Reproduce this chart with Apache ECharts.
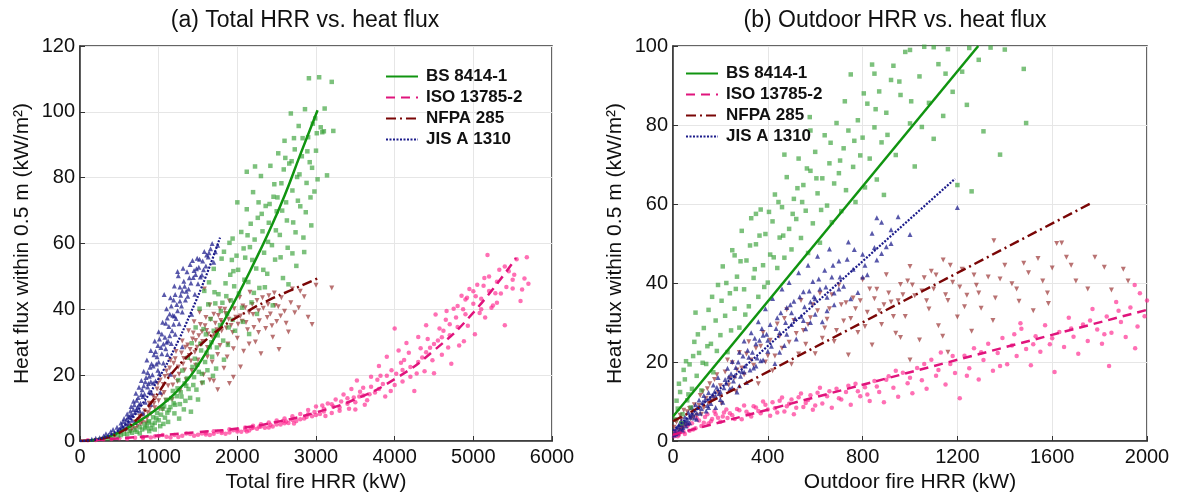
<!DOCTYPE html>
<html><head><meta charset="utf-8">
<script src="https://cdn.jsdelivr.net/npm/echarts@6/dist/echarts.min.js"></script>
<style>html,body{margin:0;padding:0;background:#fff}#c{width:1178px;height:498px}</style>
</head><body><div id="c"></div>
<script>
// ---------- labels ----------
const legendNames = ['BS 8414-1', 'ISO 13785-2', 'NFPA 285', 'JIS A 1310'];
const panelTitles = ['(a) Total HRR vs. heat flux', '(b) Outdoor HRR vs. heat flux'];
const xAxisNames = ['Total fire HRR (kW)', 'Outdoor fire HRR (kW)'];
const yAxisName = 'Heat flux within 0.5 m (kW/m\u00B2)';
const xTicksTotal = [0, 1000, 2000, 3000, 4000, 5000, 6000];
const yTicksTotal = [0, 20, 40, 60, 80, 100, 120];
const xTicksOutdoor = [0, 400, 800, 1200, 1600, 2000];
const yTicksOutdoor = [0, 20, 40, 60, 80, 100];

// ---------- panel (a): fitted curves ----------
const fitBS_total = [[0,0],[200,0.4],[400,1.7],[600,3.9],[800,6.8],[1000,10.2],[1200,14.3],[1400,19.6],[1600,26.8],[1800,35.2],[2000,44],[2200,53.5],[2400,63.5],[2600,74.5],[2800,87],[3020,100.5]];
const fitISO_total = [[0,0],[500,0.8],[1000,1.7],[1500,2.7],[2000,3.8],[2500,5.8],[3000,8.7],[3500,12.7],[4000,18.8],[4500,27.5],[5000,39],[5542,55.6]];
const fitNFPA_total = [[0,0],[300,0.8],[500,2.5],[700,6],[900,11.5],[1000,14.8],[1200,21.5],[1500,28.5],[1800,34.5],[2100,39],[2400,42.8],[2700,46],[3030,49.5]];
const fitJIS_total = [[0,0],[200,0.5],[400,2],[600,5.5],[800,11.5],[1000,19],[1200,28],[1400,38.5],[1600,50],[1780,61.8]];

// ---------- panel (a): measured points ----------
const ptsBS_total = [[350,0.8],[420,1.2],[480,1.5],[520,1.8],[560,2.2],[600,2.0],[630,3.1],[660,2.5],[700,3.4],[720,2.8],[760,4.2],[790,3.5],[820,5.1],[850,4.4],[880,6.0],[900,3.8],[930,7.2],[950,5.5],[980,8.5],[1000,6.3],
[1020,4.5],[1050,9.8],[1080,7.1],[1100,12.5],[1120,5.8],[1150,10.3],[1180,15.2],[1200,8.4],[1230,13.6],[1250,18.5],[1270,11.2],[1300,21.4],[1320,9.6],[1350,16.8],[1370,25.3],[1400,13.1],[1420,29.7],[1450,19.4],[1470,34.5],[1490,23.2],[1500,12.6],
[1520,40.2],[1540,27.5],[1560,17.8],[1580,45.6],[1600,32.4],[1620,21.5],[1640,48.2],[1660,37.1],[1680,25.6],[1700,52.3],[1720,41.8],[1740,28.4],[1760,44.6],[1780,35.2],[1800,55.4],[1820,30.5],[1850,47.9],[1870,38.6],[1900,60.2],[1920,42.7],[1950,51.6],[1970,33.5],[2000,72.5],[1990,56.3],
[2020,44.8],[2050,63.5],[2070,36.2],[2100,55.7],[2120,70.4],[2140,48.3],[2160,58.9],[2180,42.1],[2200,75.6],[2220,61.2],[2240,52.4],[2260,67.8],[2280,46.5],[2300,80.5],[2320,63.7],[2340,57.2],[2360,71.4],[2380,50.8],[2400,66.3],[2420,83.6],[2440,59.5],[2460,74.2],[2480,55.1],[2500,69.8],
[2520,87.4],[2540,62.6],[2560,78.3],[2580,49.5],[2600,91.2],[2620,72.5],[2640,58.7],[2660,84.3],[2680,99.5],[2700,76.1],[2710,66.4],[2730,88.6],[2750,53.2],[2760,80.2],[2780,95.7],[2800,71.3],[2820,86.5],[2840,61.8],[2860,100.8],[2880,78.4],[2900,92.3],[2910,110.2],[2920,84.7],[2940,65.5],[2960,96.4],[2980,75.8],[3000,88.2],[3020,79.5],[3040,110.5],[3060,95.3],[3080,93.8],[3100,94.1],[3140,80.7],[3200,109.1],[3220,94.2],
[1260,6.8],[1340,12.2],[1410,8.9],[1480,15.6],[1550,20.4],[1610,26.8],[1690,19.8],[1750,32.1],[1830,24.7],[1880,29.2],[1940,36.8],[2060,40.5],[2150,32.5],[2250,38.6],[2350,46.7],[2450,41.2],[2550,55.8],[2650,47.6],[2740,63.4],[2850,57.4],[2120,81.8],[2225,83.4],[1830,57.5],[1940,61.5],
[1570,34.0],[1630,41.5],[1670,30.0],[1710,45.2],[1790,39.5],[1860,44.0],[1910,50.5],[1960,47.0],[2010,52.0],[2080,58.5],[2130,62.5],[2190,55.0],[2270,72.5],[2310,69.0],[2390,60.5],[2470,78.0],[2510,74.0],[2590,82.5],[2630,67.0],[2690,85.0],[2770,73.0],[2830,92.0],[2870,69.5],[2950,83.0],[2990,98.0],[1110,8.6],[1190,11.5],[1280,14.8],[1360,19.0],[1430,22.5],[950,3.5],[1060,5.2],[880,3.0],
[760,2.3],[830,3.9],[870,5.6],[920,4.9],[970,6.9],[1030,8.0],[1070,10.5],[1130,9.4],[1160,13.0],[1210,11.0],[1240,16.0],[1290,13.5],[1330,17.5],[1380,15.8],[1440,17.0],[1460,25.0],[1510,21.0],[1530,29.5],[1590,24.0],[1650,28.5],[1700,33.5],[1730,22.0],[1810,42.0],[1890,34.5],[1930,55.0],[2090,49.0],[2170,66.0],[2210,45.0],[2330,52.0],[2410,72.0],[2490,64.0],[2570,70.0],[2610,86.0],[2720,92.0],[2790,81.0],[2890,88.0],[2930,74.0],[3010,93.5],[3110,101.0],[2700,57.0]];

const ptsISO_total = [[100,0.2],[200,0.3],[300,0.5],[400,0.6],[500,0.8],[600,0.7],[700,1.0],[800,1.2],[900,1.1],[1000,1.5],[1100,1.3],[1200,1.8],[1300,1.6],[1400,2.1],[1500,1.9],[1600,2.5],[1700,2.2],[1800,3.0],[1900,2.6],[2000,3.5],[2050,2.8],[2100,4.1],[2150,3.2],[2200,4.6],[2250,3.7],[2300,5.1],[2350,4.0],[2400,5.6],[2450,4.4],[2500,6.2],[2550,5.0],[2600,6.8],[2650,5.5],[2700,7.5],[2750,6.1],[2800,8.2],[2850,6.8],[2900,9.4],[2950,7.5],[3000,10.5],[3050,8.2],[3100,9.0],[3150,11.4],[3200,8.5],[3250,12.6],[3300,10.2],[3350,14.1],[3400,11.3],[3450,15.8],[3500,9.6],[3520,18.4],[3550,13.5],[3600,16.2],[3650,12.4],[3700,19.5],[3750,14.7],[3800,22.8],[3850,17.3],[3900,25.6],[3950,15.2],[4000,34.2],[4020,20.4],[4050,27.5],[4100,18.1],[4150,29.8],[4200,22.5],[4250,15.2],[4300,31.6],[4350,25.4],[4400,35.2],[4450,28.3],[4500,20.6],[4520,38.4],[4550,30.5],[4600,26.2],[4650,36.8],[4700,32.1],[4720,23.5],[4750,40.2],[4800,34.6],[4850,44.1],[4880,30.3],[4900,38.5],[4950,46.2],[5000,41.7],[5020,32.4],[5050,47.5],[5100,43.2],[5150,37.5],[5180,56.5],[5200,45.6],[5250,41.2],[5300,48.4],[5350,44.8],[5400,35.2],[5450,51.6],[5500,46.3],[5550,55.2],[5600,42.5],[5650,49.4],[5700,47.8],[5680,55.8],
[1250,1.2],[1750,2.8],[2180,3.9],[2620,5.9],[3080,10.8],[3480,13.2],[3620,11.0],[3780,18.6],[4080,23.8],[4380,21.2],[4620,33.5],[4820,29.0],[5080,38.9],[5280,44.9],
[1550,2.3],[1650,1.8],[1850,2.2],[1950,3.3],[2120,2.9],[2280,4.3],[2420,4.9],[2580,6.0],[2720,5.3],[2880,7.3],[2980,8.8],[3120,7.6],[3220,10.5],[3320,12.0],[3420,9.8],[3560,15.0],[3680,14.2],[3820,19.8],[3880,13.5],[3960,21.5],[4120,24.6],[4180,26.8],[4280,20.5],[4330,28.2],[4420,31.0],[4480,24.5],[4570,34.2],[4680,28.4],[4780,37.5],[4870,40.0],[4930,35.0],[5030,44.0],[5130,47.2],[5230,40.5],[5330,52.0],[5420,46.8],[5520,50.5],[5620,46.0],[4660,39.5],[4920,43.5],[5140,49.5],
[800,0.9],[950,1.4],[1050,1.8],[1150,1.1],[1350,2.3],[1450,1.6],[1600,2.0],[1700,3.0],[1800,2.4],[1900,3.6],[2000,2.9],[2100,3.4],[2200,4.0],[2300,4.4],[2400,4.1],[2500,5.0],[2600,5.4],[2700,6.4],[2800,6.6],[2900,8.1],[3000,7.9],[3100,9.8],[3200,11.2],[3300,9.2],[3400,13.0],[3500,11.8],[3600,13.8],[3700,16.5],[3800,15.8],[3900,19.8],[4000,17.0],[4100,21.6],[4200,19.5],[4300,24.0],[4400,27.0],[4500,29.5],[4600,31.5],[4700,35.5],[4800,41.0],[4900,43.0],[5000,45.5],[5100,40.0],[5200,50.0],[5300,42.0],[5400,53.0],[5500,49.0]];

const ptsNFPA_total = [[300,0.6],[380,1.1],[450,1.8],[520,2.5],[580,3.2],[620,4.4],[660,3.6],[700,5.8],[730,4.5],[760,7.5],[790,5.6],[820,9.2],[850,6.8],[880,11.5],[900,8.3],[930,13.6],[950,10.1],[980,15.8],[1000,12.2],[1020,18.5],[1050,9.6],[1070,14.7],[1100,21.3],[1120,16.8],[1150,24.5],[1170,12.6],[1200,19.4],[1220,27.2],[1250,22.5],[1270,15.3],[1300,30.4],[1320,25.1],[1350,18.6],[1380,33.5],[1400,27.8],[1420,21.4],[1450,36.2],[1470,30.5],[1500,24.6],[1520,39.1],[1550,33.2],[1570,20.1],[1600,37.5],[1620,28.4],[1650,41.3],[1680,31.6],[1700,18.2],[1720,35.8],[1750,26.3],[1780,40.2],[1800,33.4],[1830,22.1],[1850,38.7],[1880,29.5],[1900,42.5],[1920,35.1],[1950,19.4],[1980,37.6],[2000,31.2],[2030,43.6],[2060,36.4],[2080,27.3],[2100,40.5],[2130,33.8],[2160,45.2],[2200,38.4],[2230,30.1],[2250,42.7],[2280,36.5],[2300,26.5],[2330,40.3],[2360,34.2],[2400,44.1],[2420,38.6],[2450,31.5],[2480,41.2],[2500,36.3],[2530,27.8],[2560,43.5],[2600,39.4],[2650,33.1],[2700,46.2],[2780,40.5],[2850,43.8],[2900,37.6],[2950,35.4],[3000,47.3],[3200,46.5],[1750,15.6],[1900,17.5],[1580,46.2],[1650,18.5],
[640,2.9],[770,5.2],[860,8.7],[940,11.4],[1010,9.8],[1060,17.2],[1090,12.4],[1130,19.8],[1190,23.6],[1240,18.1],[1290,26.7],[1330,21.6],[1370,29.2],[1410,24.3],[1440,32.8],[1490,28.5],[1530,35.4],[1560,30.2],[1610,33.6],[1660,36.9],[1710,32.2],[1760,38.1],[1810,36.0],[1860,34.3],[1960,40.2],[2040,38.0],[2110,36.0],[2190,41.5],[2270,39.6],[2380,37.5],[2440,35.0],[2520,40.8],[2620,35.8],[1680,24.0],[1550,17.5],[1870,25.5],[2040,22.5],[2270,33.0],[2470,45.0],
[700,3.8],[750,6.5],[800,7.8],[840,5.5],[890,9.9],[960,13.0],[990,17.5],[1040,14.0],[1080,19.6],[1140,22.2],[1180,17.0],[1210,25.0],[1260,20.3],[1310,23.4],[1340,28.5],[1390,26.0],[1430,31.0],[1460,27.0],[1510,32.0],[1540,29.5],[1590,35.0],[1630,32.5],[1700,38.5],[1740,33.8],[1790,36.6],[1840,40.0],[1890,37.0],[1940,33.0],[2010,35.5],[2070,41.0],[2150,39.0],[2210,34.5],[2320,43.5],[2390,41.5],[2550,38.0],[2680,42.0],[2730,39.0],[2800,45.5],[1470,23.0],[1620,25.5],[1780,29.0],[1950,28.0],[2150,29.5]];

const ptsJIS_total = [[150,0.5],[200,0.8],[250,1.0],[300,1.5],[330,2.2],[360,1.8],[390,2.8],[420,3.5],[440,2.4],[470,4.2],[500,3.6],[520,5.5],[540,4.1],[560,6.8],[580,5.2],[600,8.2],[610,4.6],[630,7.4],[650,10.5],[660,6.3],[680,12.1],[700,8.7],[710,14.5],[730,10.2],[750,16.3],[760,9.1],[780,18.4],[800,13.5],[810,21.2],[830,11.8],[850,24.6],[860,16.4],[880,19.7],[900,27.5],[910,14.6],[930,22.8],[950,30.4],[960,18.2],[980,25.6],[1000,33.2],[1010,20.5],[1030,28.4],[1050,36.1],[1060,23.7],[1080,31.5],[1100,40.2],[1110,26.3],[1130,34.8],[1150,43.5],[1160,29.6],[1180,38.2],[1200,47.1],[1210,32.4],[1230,41.5],[1250,50.2],[1260,35.6],[1280,44.3],[1300,39.2],[1320,48.5],[1340,42.8],[1360,51.4],[1380,46.2],[1400,53.6],[1420,38.5],[1440,49.7],[1460,44.6],[1480,52.3],[1500,47.8],[1520,55.2],[1550,50.4],[1580,57.6],[1600,53.2],[1630,55.9],[1660,58.4],[1700,54.3],[1750,59.5],[1020,14.8],[1150,20.3],[1300,28.6],[1070,44.5],[1240,51.5],
[480,2.9],[530,4.6],[570,3.9],[590,6.4],[620,5.8],[640,9.1],[670,7.8],[690,11.0],[720,9.5],[740,13.2],[770,11.5],[790,15.6],[820,14.2],[840,19.3],[870,17.5],[890,22.4],[920,20.1],[940,26.2],[970,23.4],[990,29.0],[1040,26.5],[1090,35.8],[1120,30.4],[1140,38.6],[1170,33.5],[1190,42.8],[1220,37.2],[1270,46.8],[1290,41.0],[1310,52.5],[1350,45.5],[1390,49.6],[1430,54.8],[1470,50.6],[1510,52.8],[1560,54.7],[1610,56.5],[700,5.6],[800,8.4],[900,11.2],
[550,5.9],[610,7.2],[650,8.0],[680,9.6],[720,12.4],[750,11.0],[780,14.1],[810,16.8],[830,18.0],[860,20.8],[880,15.0],[910,23.5],[930,17.6],[960,27.2],[990,21.5],[1010,31.0],[1040,32.5],[1060,29.5],[1090,28.0],[1110,37.4],[1140,32.0],[1160,41.0],[1190,35.5],[1210,44.5],[1240,39.6],[1270,42.5],[1300,45.6],[1330,47.0],[1370,44.0],[1410,48.0],[1450,51.8],[1490,55.5],[1530,49.8],[1570,52.0],[1640,57.2],[1680,60.0],[1720,57.5],[900,18.0],[1000,24.0],[1100,30.0],[1200,38.0]];

// ---------- panel (b): fitted lines ----------
const fitBS_out = [[0,6.2],[1288,100]];
const fitISO_out = [[0,1.6],[2000,33.2]];
const fitNFPA_out = [[0,5.0],[1770,60.4]];
const fitJIS_out = [[0,2.6],[1190,66.4]];

// ---------- panel (b): measured points ----------
const ptsBS_out = [[10,5.5],[20,8.2],[30,12.4],[40,6.8],[50,15.6],[60,10.3],[70,19.4],[80,13.2],[90,25.1],[100,16.5],[110,22.3],[120,12.8],[130,28.6],[140,19.5],[150,33.2],[160,24.6],[170,17.4],[180,30.5],[190,39.5],[200,26.8],[210,44.2],[220,31.7],[230,22.5],[240,37.4],[250,48.3],[260,33.5],[270,41.6],[280,28.7],[290,53.2],[300,38.4],[310,45.7],[320,34.1],[330,56.4],[340,41.3],[350,49.8],[360,36.5],[370,58.6],[380,44.5],[390,52.4],[400,40.1],[410,47.2],[420,55.6],[430,62.4],[440,43.8],[450,51.5],[460,59.2],[470,46.4],[480,66.8],[490,53.7],[500,48.5],[510,61.3],[520,56.2],[530,71.5],[540,51.4],[550,64.8],[560,58.3],[570,47.6],[580,68.4],[590,55.1],[600,73.2],[610,62.7],[620,50.2],[630,66.5],[640,77.4],[650,59.6],[660,70.3],[670,55.4],[680,65.2],[690,80.5],[700,67.8],[710,58.2],[720,74.1],[730,63.5],[740,78.6],[750,92.8],[760,69.4],[770,60.5],[780,81.2],[790,72.3],[800,76.8],[810,64.2],[820,85.4],[830,71.5],[840,95.3],[850,79.4],[860,66.2],[870,88.5],[880,75.6],[890,62.3],[900,83.1],[920,91.4],[940,72.4],[960,87.6],[980,98.5],[1000,80.4],[1020,69.5],[1040,92.3],[1060,99.8],[1080,85.6],[1100,76.5],[1120,95.4],[1140,82.3],[1160,99.2],[1180,88.4],[1200,64.8],[1220,93.5],[1240,85.1],[1260,63.2],[1290,96.5],[1310,78.4],[1340,99.6],[1380,72.5],[1400,99.1],[1480,94.2],[1490,80.5],[1100,99.7],[1250,99.5],
[15,10.2],[35,4.5],[55,20.2],[75,8.5],[95,32.5],[470,72.5],[580,78.6],[350,57.5],[850,93.0],[930,95.0],[577,82.0],[1000,99.0],[260,47.0],
[25,14.5],[45,18.0],[65,11.8],[85,21.5],[105,27.0],[125,19.8],[145,24.0],[165,36.5],[185,22.8],[205,35.5],[225,40.0],[245,28.0],[265,38.5],[285,45.5],[305,32.0],[325,49.5],[345,43.5],[365,52.0],[385,39.0],[405,58.0],[425,46.5],[445,60.5],[465,52.0],[505,57.5],[525,64.0],[545,60.5],[565,69.0],[605,66.5],[625,58.5],[665,75.5],[705,71.0],[725,86.0],[765,76.0],[805,88.0],[855,84.0],[905,77.5],[955,91.0],[1005,86.0],[1050,79.5],[1150,93.0]];

const ptsISO_out = [[5,1.2],[15,2.1],[25,1.6],[35,3.0],[45,2.3],[60,3.8],[70,2.6],[80,4.5],[95,3.2],[110,5.2],[120,3.8],[135,6.1],[150,4.4],[165,5.6],[180,6.8],[200,4.9],[215,7.2],[230,5.8],[250,6.5],[270,8.1],[290,5.5],[310,7.4],[330,6.2],[350,8.5],[370,7.0],[390,9.2],[410,6.4],[430,8.3],[450,10.2],[470,7.5],[490,9.4],[510,6.8],[530,11.1],[550,8.6],[570,10.4],[590,7.9],[610,12.2],[630,9.5],[650,11.3],[670,8.4],[690,13.2],[710,10.5],[730,12.4],[750,9.2],[770,14.5],[790,11.3],[810,13.6],[830,10.1],[850,15.2],[870,12.4],[890,9.8],[910,16.4],[930,13.5],[950,11.2],[970,17.3],[990,14.6],[1010,12.1],[1030,18.5],[1050,15.4],[1070,13.2],[1090,20.6],[1110,16.5],[1130,22.4],[1150,14.3],[1170,19.5],[1190,17.2],[1210,10.8],[1230,21.6],[1250,18.4],[1270,23.5],[1290,15.6],[1310,20.5],[1330,24.6],[1350,17.8],[1370,22.3],[1390,26.1],[1410,19.4],[1430,24.2],[1450,21.5],[1470,28.4],[1490,23.3],[1510,19.2],[1530,26.5],[1550,22.6],[1570,29.3],[1590,24.5],[1610,17.5],[1630,27.6],[1650,23.8],[1670,31.2],[1690,26.4],[1710,22.1],[1730,29.5],[1750,25.3],[1770,33.4],[1790,28.2],[1810,24.6],[1830,31.5],[1840,19.0],[1850,27.4],[1870,35.2],[1890,30.1],[1910,26.3],[1930,33.8],[1950,23.5],[1970,37.4],[1990,31.6],[2000,35.6],[1948,39.5],[1466,29.8],
[10,2.5],[20,1.2],[30,2.2],[40,3.6],[50,1.8],[65,4.2],[85,2.9],[100,5.8],[130,4.6],[145,6.8],[160,5.0],[175,7.5],[190,5.9],[210,6.2],[225,8.0],[240,7.0],[260,5.6],[280,7.8],[300,9.0],[320,6.8],[340,8.8],[360,7.6],[380,10.0],[400,8.0],[420,9.8],[440,7.2],[460,11.0],[480,8.8],[500,10.5],[520,8.4],[540,12.0],[560,9.6],[580,11.6],[600,9.0],[620,13.5],[660,12.6],[700,10.8],[740,14.0],[780,12.6],[820,11.8],[860,13.8],[900,15.5],[940,17.8],[1000,16.0],[1060,19.5],[1120,18.0],[1180,21.5],[1240,16.5],[1300,22.5],[1380,19.0],[1440,27.0],[1520,24.5],[1600,26.0],[1680,28.5],[1760,30.5],[1820,27.0],[1880,33.0],[1960,29.0]];

const ptsNFPA_out = [[5,3.5],[15,4.8],[25,2.8],[35,5.5],[50,4.2],[60,7.4],[75,5.6],[90,9.2],[100,6.5],[115,11.5],[130,8.4],[145,13.2],[160,10.1],[175,15.6],[190,12.3],[205,9.5],[220,17.5],[235,14.2],[250,19.8],[265,12.6],[280,22.4],[300,16.8],[320,25.1],[340,19.2],[360,14.5],[380,27.5],[400,21.6],[420,17.8],[440,29.6],[460,23.5],[480,33.2],[500,19.4],[520,27.2],[540,35.6],[560,24.5],[580,31.2],[600,22.1],[620,37.4],[640,28.6],[660,33.5],[680,25.2],[700,39.5],[720,30.4],[740,21.8],[760,36.2],[780,27.5],[800,40.8],[820,32.6],[840,24.3],[860,38.4],[880,29.5],[900,42.1],[920,35.2],[940,27.3],[960,39.6],[980,31.5],[1000,44.2],[1020,36.8],[1040,25.6],[1060,41.3],[1080,33.4],[1100,38.5],[1120,29.2],[1140,45.8],[1160,35.6],[1180,40.2],[1200,31.4],[1220,43.5],[1240,36.9],[1260,27.8],[1280,39.4],[1300,33.6],[1330,41.5],[1360,36.2],[1400,44.5],[1430,39.8],[1460,35.4],[1500,42.6],[1540,46.2],[1580,37.5],[1600,43.8],[1640,50.1],[1700,40.5],[1780,46.5],[1850,38.2],[1900,43.5],[960,26.2],[1160,22.5],[1000,20.5],[1354,50.7],[1619,50.0],[1584,34.8],[1138,26.5],
[10,5.2],[30,6.5],[45,7.8],[70,8.2],[85,6.0],[110,9.0],[125,12.5],[140,10.8],[155,14.5],[170,11.0],[185,16.8],[200,14.0],[230,20.5],[260,16.0],[290,18.5],[310,22.0],[350,23.5],[390,20.0],[410,25.5],[450,26.5],[470,31.0],[510,30.5],[550,28.0],[590,34.5],[630,26.0],[670,37.0],[710,34.5],[750,31.0],[790,35.5],[830,38.5],[870,33.0],[910,37.5],[950,35.5],[990,40.5],[1050,38.0],[1090,43.0],[1150,37.0],[1210,39.0],[1270,42.0],[1350,30.5],[1450,38.5],[1520,33.0],[1680,44.5],[1750,38.5],
[40,3.2],[80,7.0],[120,6.8],[150,9.5],[200,11.2],[240,15.8],[270,18.0],[330,20.5],[370,24.0],[430,21.5],[490,25.0],[530,22.0],[570,29.5],[610,33.0],[650,30.8],[690,28.0],[730,35.0],[770,33.5],[810,29.0],[850,36.0],[890,34.5],[930,31.5],[970,37.0],[1010,39.5],[1070,35.5],[1110,42.0],[1170,44.5],[1230,34.0],[1290,37.5],[1380,41.0],[1480,45.0],[1560,40.5],[1660,46.5],[1820,44.0],[1920,40.5]];

const ptsJIS_out = [[5,1.5],[10,2.5],[15,3.2],[20,2.0],[25,4.1],[30,3.0],[35,5.2],[40,2.8],[45,4.5],[50,6.1],[55,3.8],[60,5.4],[65,7.2],[70,4.6],[75,6.3],[80,8.5],[90,5.8],[95,9.2],[100,7.1],[110,10.4],[120,8.2],[130,11.5],[140,7.6],[150,12.3],[160,9.5],[170,14.2],[180,11.3],[190,16.1],[200,12.5],[210,9.8],[220,15.6],[230,18.4],[240,13.2],[250,20.1],[260,16.5],[270,12.4],[280,22.5],[290,17.6],[300,25.3],[310,14.8],[320,21.2],[330,27.4],[340,18.5],[350,24.6],[360,30.2],[370,20.3],[380,26.8],[390,33.5],[400,22.7],[410,29.5],[420,36.1],[430,19.6],[440,31.2],[450,27.4],[460,38.5],[470,24.2],[480,33.8],[490,40.1],[500,29.5],[510,35.4],[520,25.8],[530,42.6],[540,31.6],[550,37.8],[560,28.4],[570,44.5],[580,35.2],[590,40.4],[600,32.1],[610,46.8],[620,38.5],[630,30.2],[640,43.2],[650,36.4],[660,48.6],[670,41.5],[680,34.5],[700,45.6],[720,39.2],[740,50.4],[760,43.5],[780,37.6],[800,47.3],[820,42.1],[840,52.6],[860,45.8],[880,55.4],[900,49.2],[920,53.5],[950,56.8],[1000,52.3],[1200,59.1],[860,56.5],
[12,1.8],[22,3.6],[32,4.2],[42,3.4],[52,5.0],[62,4.5],[72,6.0],[85,6.8],[105,8.5],[115,7.0],[125,9.8],[135,10.5],[145,9.0],[155,10.8],[165,11.6],[175,12.5],[185,13.6],[195,12.0],[215,13.5],[225,14.6],[235,16.2],[245,17.0],[255,15.2],[265,18.6],[275,20.0],[285,16.4],[295,21.5],[305,19.0],[315,23.0],[325,18.0],[335,22.5],[345,26.0],[355,21.0],[365,25.5],[375,28.5],[395,27.0],[415,24.0],[435,28.5],[455,32.5],[475,30.0],[495,34.5],[515,31.0],[535,36.5],[555,34.0],[575,38.0],[595,36.5],[615,41.0],[645,39.0],[675,44.5],[705,41.5],[735,46.0],[765,48.5],[810,44.5],
[100,5.5],[150,8.5],[200,10.5],[250,13.5],[300,17.5],[350,19.0],[400,25.5],[450,22.5],[500,32.5],[550,30.5],[600,36.0],[650,33.0],[700,38.5],[750,36.0],[800,41.5],[850,49.0],[880,47.5],[920,50.0],[180,8.5],[280,14.0],[380,20.5],[480,27.0],[580,30.0],[680,37.5]];

// ---------- styles ----------
const FONT = 'Liberation Sans, Arial, sans-serif';
const colors = {
  bsLine: '#109410', isoLine: '#e0147c', nfpaLine: '#7a0606', jisLine: '#1a1a8a',
  bsPt: 'rgba(50,158,50,0.8)', isoPt: 'rgba(255,35,140,0.82)', nfpaPt: 'rgba(145,35,35,0.8)', jisPt: 'rgba(28,28,140,0.92)'
};

function scatter(name, data, axis, color, symbol, rotate, size) {
  return { name: name, type: 'scatter', xAxisIndex: axis, yAxisIndex: axis, data: data,
    symbol: symbol, symbolSize: size || 4.5, symbolRotate: rotate || 0, itemStyle: { color: color },
    z: 2, silent: true, emphasis: { disabled: true } };
}
function fit(name, data, axis, color, type, width, smooth) {
  return { name: name, type: 'line', xAxisIndex: axis, yAxisIndex: axis, data: data,
    showSymbol: false, symbol: 'none', smooth: smooth, z: 4, silent: true,
    lineStyle: { color: color, width: width, type: type, cap: 'butt' }, itemStyle: { color: color },
    emphasis: { disabled: true } };
}

const dashISO = [9, 6], dashNFPA = [10, 4, 2, 4], dashJIS = [2, 1.5];
const plainNum = function (v) { return String(v); };

function makeXAxis(idx, ticks, name) {
  return { type: 'value', gridIndex: idx, min: ticks[0], max: ticks[ticks.length - 1], interval: ticks[1] - ticks[0],
    name: name, nameLocation: 'middle', nameGap: 31,
    nameTextStyle: { fontSize: 21, color: '#111', fontFamily: FONT },
    axisLine: { show: true, lineStyle: { color: '#333', width: 1.5 } },
    axisTick: { show: true, inside: true, length: 5, lineStyle: { color: '#333' } },
    axisLabel: { fontSize: 20, color: '#111', fontFamily: FONT, margin: 6, formatter: plainNum },
    splitLine: { show: true, lineStyle: { color: '#e6e6e6', width: 1 } } };
}
function makeYAxis(idx, ticks) {
  return { type: 'value', gridIndex: idx, min: ticks[0], max: ticks[ticks.length - 1], interval: ticks[1] - ticks[0],
    name: yAxisName, nameLocation: 'middle', nameGap: 47,
    nameTextStyle: { fontSize: 21, color: '#111', fontFamily: FONT },
    axisLine: { show: true, lineStyle: { color: '#333', width: 1.5 } },
    axisTick: { show: true, inside: true, length: 5, lineStyle: { color: '#333' } },
    axisLabel: { fontSize: 20, color: '#111', fontFamily: FONT, margin: 5, formatter: plainNum },
    splitLine: { show: true, lineStyle: { color: '#e6e6e6', width: 1 } } };
}
function makeLegend(left, top) {
  return { data: legendNames, orient: 'vertical', left: left, top: top, itemWidth: 32, itemHeight: 17, itemGap: 4,
    selectedMode: false, itemStyle: { opacity: 0, borderWidth: 0 },
    textStyle: { fontSize: 17, fontWeight: 'bold', color: '#111', fontFamily: FONT, padding: [0, 0, 0, 3] } };
}

const chart = echarts.init(document.getElementById('c'), null, { renderer: 'canvas' });
chart.setOption({
  backgroundColor: '#fff',
  animation: false,
  graphic: [
    { type: 'text', x: 305, y: 21, style: { text: panelTitles[0], font: '23px ' + FONT, fill: '#111', align: 'center', verticalAlign: 'middle' } },
    { type: 'text', x: 895, y: 21, style: { text: panelTitles[1], font: '23px ' + FONT, fill: '#111', align: 'center', verticalAlign: 'middle' } }
  ],
  legend: [makeLegend(380, 63), makeLegend(680, 60)],
  grid: [
    { left: 80, right: 626, top: 46, height: 400, show: true, borderColor: '#333', borderWidth: 1.5, backgroundColor: 'transparent' },
    { left: 673, right: 31, top: 46, height: 400, show: true, borderColor: '#333', borderWidth: 1.5, backgroundColor: 'transparent' }
  ],
  xAxis: [makeXAxis(0, xTicksTotal, xAxisNames[0]), makeXAxis(1, xTicksOutdoor, xAxisNames[1])],
  yAxis: [makeYAxis(0, yTicksTotal), makeYAxis(1, yTicksOutdoor)],
  series: [
    scatter('pa_iso', ptsISO_total, 0, colors.isoPt, 'circle'),
    scatter('pa_nfpa', ptsNFPA_total, 0, colors.nfpaPt, 'triangle', 180, 5),
    scatter('pa_jis', ptsJIS_total, 0, colors.jisPt, 'triangle', 0, 5),
    scatter('pa_bs', ptsBS_total, 0, colors.bsPt, 'rect'),
    fit(legendNames[0], fitBS_total, 0, colors.bsLine, 'solid', 2.5, true),
    fit(legendNames[1], fitISO_total, 0, colors.isoLine, dashISO, 2.5, true),
    fit(legendNames[2], fitNFPA_total, 0, colors.nfpaLine, dashNFPA, 2.5, true),
    fit(legendNames[3], fitJIS_total, 0, colors.jisLine, dashJIS, 2.2, true),
    scatter('pb_iso', ptsISO_out, 1, colors.isoPt, 'circle'),
    scatter('pb_nfpa', ptsNFPA_out, 1, colors.nfpaPt, 'triangle', 180, 5),
    scatter('pb_jis', ptsJIS_out, 1, colors.jisPt, 'triangle', 0, 5),
    scatter('pb_bs', ptsBS_out, 1, colors.bsPt, 'rect'),
    fit(legendNames[0], fitBS_out, 1, colors.bsLine, 'solid', 2.5, false),
    fit(legendNames[1], fitISO_out, 1, colors.isoLine, dashISO, 2.5, false),
    fit(legendNames[2], fitNFPA_out, 1, colors.nfpaLine, dashNFPA, 2.5, false),
    fit(legendNames[3], fitJIS_out, 1, colors.jisLine, dashJIS, 2.2, false)
  ]
});
</script>
</body></html>
